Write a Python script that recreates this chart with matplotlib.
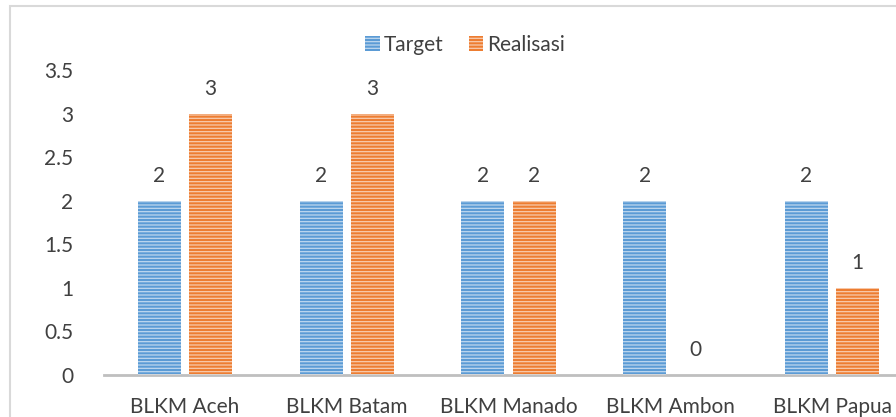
import matplotlib
matplotlib.use("Agg")
import matplotlib.pyplot as plt
from matplotlib.patches import Rectangle, Patch
import numpy as np

categories = ["BLKM Aceh", "BLKM Batam", "BLKM Manado", "BLKM Ambon", "BLKM Papua"]
target = [2, 2, 2, 2, 2]
realisasi = [3, 3, 2, 0, 1]
yticks = [0, 0.5, 1, 1.5, 2, 2.5, 3, 3.5]
ytick_labels = ["0", "0.5", "1", "1.5", "2", "2.5", "3", "3.5"]

plt.rcParams['font.family'] = ['Lato', 'DejaVu Sans']
plt.rcParams['hatch.linewidth'] = 0.9
TXT = '#404040'
BLUE = '#5B9BD5'
ORANGE = '#ED7D31'
STRIPE = (1, 1, 1, 0.6)
FS = 15

W, H = 896, 417
fig = plt.figure(figsize=(W / 100, H / 100), dpi=100)

# outer frame (chart area border, partially cropped)
fig.patches.append(Rectangle((10 / W, -0.1), 1.2, (H - 5.5) / H + 0.1,
                             transform=fig.transFigure, fill=False,
                             edgecolor='#d9d9d9', linewidth=1.5))

left, right = 104, 913
y0, y35 = 375, 70
ax = fig.add_axes([left / W, (H - y0) / H, (right - left) / W, (y0 - y35) / H])
ax.set_xlim(-0.5, len(categories) - 0.5)
ax.set_ylim(0, 3.5)

x = np.arange(len(categories))
bw = 0.266
off = 0.158
for vals, sign, col in [(target, -1, BLUE), (realisasi, 1, ORANGE)]:
    ax.bar(x + sign * off, vals, bw, color=col, edgecolor='none', zorder=2)
    ax.bar(x + sign * off, vals, bw, color='none', edgecolor=STRIPE,
           hatch='-----', linewidth=0, zorder=3)
    for xi, v in zip(x + sign * off, vals):
        ax.text(xi, v + 0.17, f"{v}", ha='center', va='bottom', fontsize=FS, color=TXT)

ax.set_yticks(yticks)
ax.set_yticklabels(ytick_labels)
ax.set_xticks(x)
ax.set_xticklabels(categories)
ax.tick_params(axis='both', length=0, labelsize=FS, labelcolor=TXT)
ax.tick_params(axis='y', pad=22)
ax.tick_params(axis='x', pad=16)
for s in ['left', 'right', 'top']:
    ax.spines[s].set_visible(False)
ax.spines['bottom'].set_color('#bfbfbf')
ax.spines['bottom'].set_linewidth(2)

handles = [Patch(facecolor=BLUE, edgecolor=STRIPE, hatch='-----', linewidth=0),
           Patch(facecolor=ORANGE, edgecolor=STRIPE, hatch='-----', linewidth=0)]
fig.legend(handles, ["Target", "Realisasi"], loc='center', bbox_to_anchor=(465 / W, 1 - 45 / H),
           ncol=2, frameon=False, fontsize=FS, labelcolor=TXT, handlelength=0.7,
           handleheight=0.7, handletextpad=0.2, columnspacing=1.2)

fig.savefig("out.png", dpi=100)
